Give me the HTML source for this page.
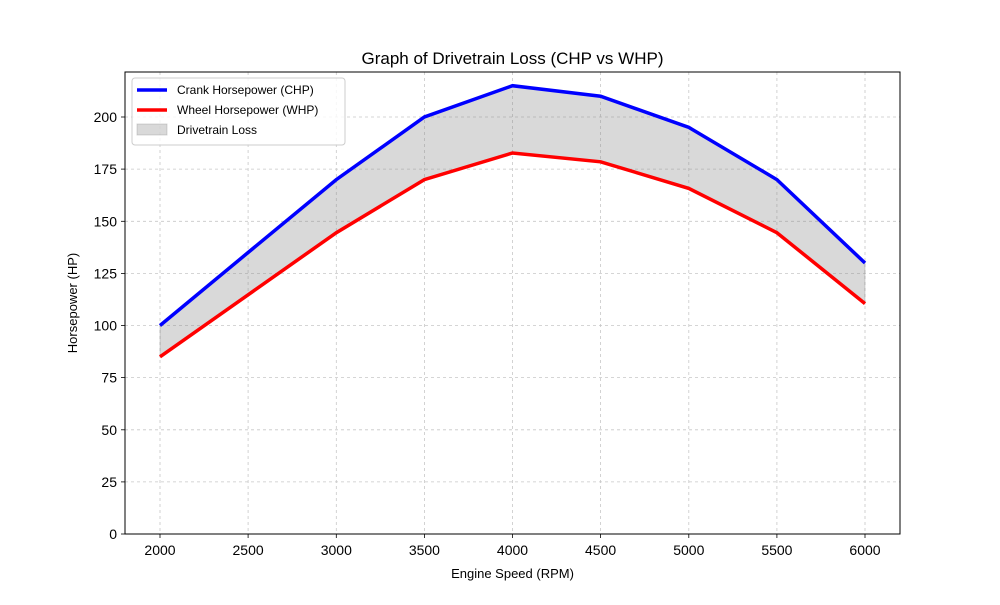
<!DOCTYPE html>
<html><head><meta charset="utf-8"><style>body{margin:0;background:#fff}</style></head><body>
<svg width="1000" height="600" xmlns="http://www.w3.org/2000/svg" font-family="Liberation Sans, DejaVu Sans, sans-serif">
<rect width="1000" height="600" fill="#fff"/>
<g stroke="#b0b0b0" stroke-width="0.8" stroke-dasharray="3,3" opacity="0.7">
<line x1="160" y1="72" x2="160" y2="534"/><line x1="248.1" y1="72" x2="248.1" y2="534"/><line x1="336.3" y1="72" x2="336.3" y2="534"/><line x1="424.4" y1="72" x2="424.4" y2="534"/><line x1="512.5" y1="72" x2="512.5" y2="534"/><line x1="600.6" y1="72" x2="600.6" y2="534"/><line x1="688.8" y1="72" x2="688.8" y2="534"/><line x1="776.9" y1="72" x2="776.9" y2="534"/><line x1="865" y1="72" x2="865" y2="534"/>
<line x1="125" y1="481.9" x2="900" y2="481.9"/><line x1="125" y1="429.8" x2="900" y2="429.8"/><line x1="125" y1="377.6" x2="900" y2="377.6"/><line x1="125" y1="325.5" x2="900" y2="325.5"/><line x1="125" y1="273.4" x2="900" y2="273.4"/><line x1="125" y1="221.3" x2="900" y2="221.3"/><line x1="125" y1="169.1" x2="900" y2="169.1"/><line x1="125" y1="117" x2="900" y2="117"/>
</g>
<polygon fill="#808080" fill-opacity="0.3" stroke="#808080" stroke-opacity="0.3" points="160,325.5 248.1,252.5 336.3,179.6 424.4,117 512.5,85.7 600.6,96.2 688.8,127.4 776.9,179.6 865,263 865,303.6 776.9,232.7 688.8,188.4 600.6,161.8 512.5,153 424.4,179.6 336.3,232.7 248.1,294.8 160,356.8"/>
<polyline fill="none" stroke="#0000ff" stroke-width="3.5" points="160,325.5 248.1,252.5 336.3,179.6 424.4,117 512.5,85.7 600.6,96.2 688.8,127.4 776.9,179.6 865,263"/>
<polyline fill="none" stroke="#ff0000" stroke-width="3.5" points="160,356.8 248.1,294.8 336.3,232.7 424.4,179.6 512.5,153 600.6,161.8 688.8,188.4 776.9,232.7 865,303.6"/>
<rect x="125" y="72" width="775" height="462" fill="none" stroke="#000" stroke-width="1"/>
<g stroke="#000" stroke-width="0.8">
<line x1="160" y1="534" x2="160" y2="538"/><line x1="248.1" y1="534" x2="248.1" y2="538"/><line x1="336.3" y1="534" x2="336.3" y2="538"/><line x1="424.4" y1="534" x2="424.4" y2="538"/><line x1="512.5" y1="534" x2="512.5" y2="538"/><line x1="600.6" y1="534" x2="600.6" y2="538"/><line x1="688.8" y1="534" x2="688.8" y2="538"/><line x1="776.9" y1="534" x2="776.9" y2="538"/><line x1="865" y1="534" x2="865" y2="538"/>
<line x1="121" y1="534" x2="125" y2="534"/><line x1="121" y1="481.9" x2="125" y2="481.9"/><line x1="121" y1="429.8" x2="125" y2="429.8"/><line x1="121" y1="377.6" x2="125" y2="377.6"/><line x1="121" y1="325.5" x2="125" y2="325.5"/><line x1="121" y1="273.4" x2="125" y2="273.4"/><line x1="121" y1="221.3" x2="125" y2="221.3"/><line x1="121" y1="169.1" x2="125" y2="169.1"/><line x1="121" y1="117" x2="125" y2="117"/>
</g>
<g font-size="14" text-anchor="middle" fill="#000">
<text x="160" y="555">2000</text><text x="248.1" y="555">2500</text><text x="336.3" y="555">3000</text><text x="424.4" y="555">3500</text><text x="512.5" y="555">4000</text><text x="600.6" y="555">4500</text><text x="688.8" y="555">5000</text><text x="776.9" y="555">5500</text><text x="865" y="555">6000</text>
</g>
<g font-size="14" text-anchor="end" fill="#000">
<text x="117" y="539">0</text><text x="117" y="487">25</text><text x="117" y="435">50</text><text x="117" y="382.6">75</text><text x="117" y="330.5">100</text><text x="117" y="278.4">125</text><text x="117" y="226.3">150</text><text x="117" y="174.1">175</text><text x="117" y="122">200</text>
</g>
<text x="512.5" y="578" font-size="13" text-anchor="middle">Engine Speed (RPM)</text>
<text transform="translate(77,303) rotate(-90)" font-size="13" text-anchor="middle">Horsepower (HP)</text>
<text x="512.5" y="64" font-size="17" text-anchor="middle">Graph of Drivetrain Loss (CHP vs WHP)</text>
<rect x="132" y="78" width="213" height="67" rx="3" fill="#fff" fill-opacity="0.8" stroke="#ccc"/>
<line x1="137" y1="90" x2="167" y2="90" stroke="#0000ff" stroke-width="3.5"/>
<line x1="137" y1="110" x2="167" y2="110" stroke="#ff0000" stroke-width="3.5"/>
<rect x="137" y="124" width="30" height="11" fill="#808080" fill-opacity="0.3" stroke="#808080" stroke-opacity="0.3"/>
<g font-size="12"><text x="177" y="94">Crank Horsepower (CHP)</text><text x="177" y="114">Wheel Horsepower (WHP)</text><text x="177" y="134">Drivetrain Loss</text></g>
</svg>
</body></html>
